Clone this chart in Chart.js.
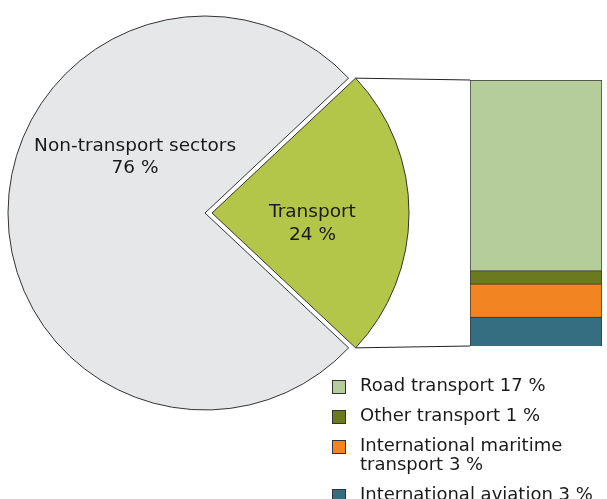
<!DOCTYPE html>
<html lang="en">
<head>
  <meta charset="UTF-8">
  <title>Transport share</title>
  <script src="https://cdn.jsdelivr.net/npm/chart.js"></script>
  <style>
    body { margin: 0; background: #fff; overflow: hidden; font-family: "DejaVu Sans", Verdana, sans-serif; }
    #wrap { position: relative; width: 607px; height: 499px; }
    canvas { position: absolute; left: 0; top: 0; }
    #barChart { pointer-events: none; }
    #legend { position: absolute; left: 332px; top: 375px; width: 290px; display: flex; flex-direction: column; gap: 11px; }
    .item { display: flex; align-items: flex-start; font-size: 18px; line-height: 19px; color: #1a1a1a; }
    .box { width: 12px; height: 12px; border: 1px solid #333; margin: 5px 14px 0 0; flex: none; }
  </style>
</head>
<body>
  <div id="wrap">
    <canvas id="pieChart" width="607" height="499"></canvas>
    <canvas id="barChart" width="607" height="499"></canvas>
    <div id="legend"></div>
  </div>

  <script>
    // pie: share of total
    const pieLabels = ['Transport', 'Non-transport sectors'];
    const pieValues = [24, 76];
    const pieText = ['24 %', '76 %'];
    const pieColors = ['#b3c64a', '#e6e7e9'];

    // bar: breakdown of transport (bottom to top)
    const barLabels = ['International aviation', 'International maritime transport', 'Other transport', 'Road transport'];
    const barValues = [2.6, 3.0, 1.2, 17.2];
    const barText = ['3 %', '3 %', '1 %', '17 %'];
    const barColors = ['#346e80', '#f28522', '#6b7a1f', '#b5cd9a'];

    const FONT = '18.5px "DejaVu Sans", Verdana, sans-serif';

    // chart.js draws arcs shifted by offset / 4
    function shift(arc) {
      return (arc.options.offset || 0) / 4;
    }

    const pieLabelPlugin = {
      id: 'pieLabels',
      afterDatasetsDraw(chart) {
        const ctx = chart.ctx;
        const arcs = chart.getDatasetMeta(0).data;
        ctx.save();
        ctx.font = FONT;
        ctx.fillStyle = '#1a1a1a';
        ctx.textAlign = 'center';
        ctx.textBaseline = 'middle';
        // transport slice
        const t = arcs[0];
        const r = t.outerRadius;
        const tx = t.x + shift(t) + r * 0.51;
        ctx.fillText(pieLabels[0], tx, t.y - 1);
        ctx.fillText(pieText[0], tx, t.y + 22);
        // non-transport
        const n = arcs[1];
        const nx = n.x - r * 0.355;
        const ny = n.y - r * 0.285;
        ctx.fillText(pieLabels[1], nx, ny - 11);
        ctx.fillText(pieText[1], nx, ny + 11);
        ctx.restore();
      }
    };

    const pieChart = new Chart(document.getElementById('pieChart'), {
      type: 'pie',
      data: {
        labels: pieLabels,
        datasets: [{
          data: pieValues,
          backgroundColor: pieColors,
          borderColor: '#333',
          borderWidth: 1,
          offset: [28, 0],
          clip: false
        }]
      },
      options: {
        responsive: false,
        animation: false,
        rotation: 46.8,
        radius: 197,
        layout: { padding: { left: 0, top: 0, right: 197, bottom: 73 } },
        plugins: { legend: { display: false }, tooltip: { enabled: false } }
      },
      plugins: [pieLabelPlugin]
    });

    // lines joining the transport slice to the bar
    const connectorPlugin = {
      id: 'connector',
      afterDatasetsDraw(chart) {
        const arc = pieChart.getDatasetMeta(0).data[0];
        const r = arc.outerRadius;
        const ax = arc.x + shift(arc);
        const top = chart.getDatasetMeta(barValues.length - 1).data[0];
        const bottom = chart.getDatasetMeta(0).data[0];
        const left = top.x - top.width / 2;
        const ctx = chart.ctx;
        ctx.save();
        ctx.strokeStyle = '#222';
        ctx.lineWidth = 1;
        ctx.beginPath();
        ctx.moveTo(ax + r * Math.cos(arc.startAngle), arc.y + r * Math.sin(arc.startAngle));
        ctx.lineTo(left, top.y);
        ctx.moveTo(ax + r * Math.cos(arc.endAngle), arc.y + r * Math.sin(arc.endAngle));
        ctx.lineTo(left, bottom.base);
        ctx.stroke();
        ctx.restore();
      }
    };

    const barChart = new Chart(document.getElementById('barChart'), {
      type: 'bar',
      data: {
        labels: ['Transport'],
        datasets: barValues.map((v, i) => ({
          label: barLabels[i],
          data: [v],
          backgroundColor: barColors[i],
          borderColor: '#333',
          borderWidth: 1,
          categoryPercentage: 1,
          barPercentage: 1
        }))
      },
      options: {
        responsive: false,
        animation: false,
        layout: { padding: { left: 470, right: 5, top: 80, bottom: 153 } },
        scales: {
          x: { stacked: true, display: false },
          y: { stacked: true, display: false, min: 0, max: barValues.reduce((a, b) => a + b, 0) }
        },
        plugins: { legend: { display: false }, tooltip: { enabled: false } }
      },
      plugins: [connectorPlugin]
    });

    // legend, top to bottom
    const legend = document.getElementById('legend');
    for (let i = barLabels.length - 1; i >= 0; i--) {
      const item = document.createElement('div');
      item.className = 'item';
      const box = document.createElement('span');
      box.className = 'box';
      box.style.background = barColors[i];
      const txt = document.createElement('span');
      txt.textContent = barLabels[i] + ' ' + barText[i];
      item.appendChild(box);
      item.appendChild(txt);
      legend.appendChild(item);
    }
  </script>
</body>
</html>
